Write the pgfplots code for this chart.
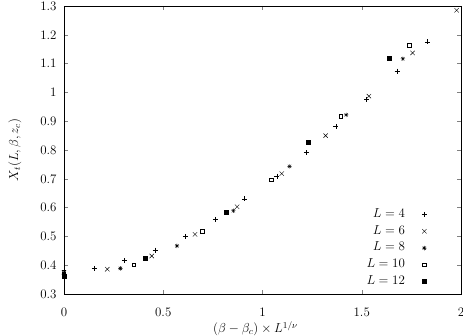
\RequirePackage{fix-cm}
\documentclass[border=0pt]{standalone}
\usepackage{pgfplots}
\pgfplotsset{compat=1.18}
\pgfdeclareplotmark{plusx}{%
  \pgfpathmoveto{\pgfqpoint{-\pgfplotmarksize}{0pt}}\pgfpathlineto{\pgfqpoint{\pgfplotmarksize}{0pt}}%
  \pgfpathmoveto{\pgfqpoint{0pt}{-\pgfplotmarksize}}\pgfpathlineto{\pgfqpoint{0pt}{\pgfplotmarksize}}%
  \pgfpathmoveto{\pgfqpoint{-.75\pgfplotmarksize}{-.75\pgfplotmarksize}}\pgfpathlineto{\pgfqpoint{.75\pgfplotmarksize}{.75\pgfplotmarksize}}%
  \pgfpathmoveto{\pgfqpoint{-.75\pgfplotmarksize}{.75\pgfplotmarksize}}\pgfpathlineto{\pgfqpoint{.75\pgfplotmarksize}{-.75\pgfplotmarksize}}%
  \pgfusepathqstroke}
\newcommand{\bigf}{\fontsize{13}{15.5}\selectfont}
\newcommand{\gap}{\rule{15bp}{0pt}}
\begin{document}
\begin{tikzpicture}
\path[use as bounding box] (-64bp,-42bp) rectangle (399bp,294bp);
\begin{axis}[
  at={(0,0)}, anchor=south west,
  scale only axis, width=397bp, height=288bp,
  xmin=0, xmax=2, ymin=0.3, ymax=1.3,
  xtick={0,0.5,1,1.5,2},
  xticklabels={0,0.5,1,1.5,2},
  ytick={0.3,0.4,0.5,0.6,0.7,0.8,0.9,1.0,1.1,1.2,1.3},
  yticklabels={0.3,0.4,0.5,0.6,0.7,0.8,0.9,1,1.1,1.2,1.3},
  tick label style={font=\bigf},
  label style={font=\bigf},
  xticklabel style={yshift=-10bp},
  yticklabel style={xshift=-4bp},
  tick align=inside, major tick length=4bp,
  axis line style={line width=0.6pt},
  xlabel={$(\beta-\beta_c)\times L^{1/\nu}$},
  ylabel={$X_t(L,\beta,z_c)$},
  xlabel style={xshift=-7bp, yshift=2bp},
  ylabel style={yshift=12bp},
  legend plot pos=right,
  legend cell align=right,
  legend style={at={(axis description cs:0.922,0.006)}, anchor=south east, draw=none, fill=none,
    row sep=0bp, font=\bigf, nodes={text height=9bp, text depth=3.4bp, inner ysep=2.2bp}},
  every axis plot/.append style={only marks, black, line width=0.4pt},
  clip=false,
]
\addplot[mark=+, mark size=2.5pt] coordinates {
(0,0.383) (0.153,0.389) (0.304,0.416) (0.459,0.452) (0.611,0.499) (0.762,0.559)
(0.910,0.630) (1.072,0.709) (1.221,0.791) (1.370,0.882) (1.524,0.976) (1.678,1.074) (1.831,1.176)};
\addlegendentry{$L=4$\gap}
\addplot[mark=x, mark size=3.1pt] coordinates {
(0,0.375) (0.218,0.386) (0.442,0.432) (0.660,0.507) (0.872,0.603) (1.097,0.718)
(1.318,0.850) (1.536,0.987) (1.756,1.137) (1.978,1.285)};
\addlegendentry{$L=6$\gap}
\addplot[mark=plusx, mark size=2.2pt] coordinates {
(0,0.372) (0.284,0.389) (0.569,0.467) (0.853,0.589) (1.136,0.743) (1.422,0.922) (1.707,1.117)};
\addlegendentry{$L=8$\gap}
\addplot[mark=square, mark size=1.7pt] coordinates {
(0,0.370) (0.350,0.402) (0.696,0.518) (1.043,0.697) (1.394,0.917) (1.739,1.164)};
\addlegendentry{$L=10$\gap}
\addplot[mark=square*, mark size=2pt] coordinates {
(0,0.363) (0.408,0.423) (0.819,0.585) (1.229,0.827) (1.639,1.119)};
\addlegendentry{$L=12$\gap}
\end{axis}
\end{tikzpicture}
\end{document}
